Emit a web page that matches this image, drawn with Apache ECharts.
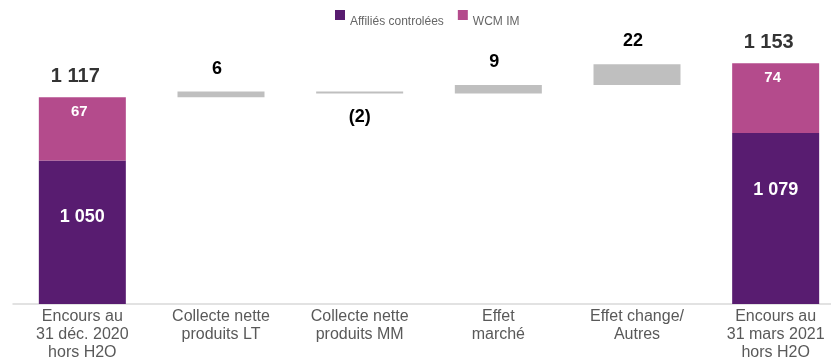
<!DOCTYPE html>
<html>
<head>
<meta charset="utf-8">
<script src="https://cdn.jsdelivr.net/npm/echarts@6/dist/echarts.min.js"></script>
<style>html,body{margin:0;padding:0;background:#fff}#c{width:831px;height:360px}</style>
</head>
<body>
<div id="c"></div>
<script>
const categories = ['Encours au\n31 déc. 2020\nhors H2O', 'Collecte nette\nproduits LT', 'Collecte nette\nproduits MM', 'Effet\nmarché', 'Effet change/\nAutres', 'Encours au\n31 mars 2021\nhors H2O'];
const affilies = [1050, null, null, null, null, 1079];
const wcm = [67, null, null, null, null, 74];
const variations = [null, 6, -2, 9, 22, null];
const seriesNames = ['Affiliés controlées', 'WCM IM'];

const FONT = "'Liberation Sans', Arial, sans-serif";
const PURPLE = '#581C70', PINK = '#B44B8C', GREY = '#BFBFBF';

function fmt(v) {
  const s = String(Math.abs(v)).replace(/\B(?=(\d{3})+(?!\d))/g, ' ');
  return v < 0 ? '(' + s + ')' : s;
}

// totals and waterfall bases derived from the data
const totals = affilies.map((a, i) => a == null ? null : a + wcm[i]);
const bases = [];
let running = totals[0];
variations.forEach((d, i) => {
  if (d == null) { bases.push(null); return; }
  const next = running + d;
  bases.push(Math.min(running, next));
  running = next;
});
const deltaData = variations.map(d => {
  if (d == null) return null;
  return d < 0
    ? { value: -d, label: { position: 'bottom', distance: 15, offset: [0, 0] } }
    : { value: d };
});

const chart = echarts.init(document.getElementById('c'), null, { renderer: 'canvas' });
chart.setOption({
  animation: false,
  backgroundColor: '#fff',
  legend: {
    data: seriesNames,
    left: 335, top: 10, padding: 0,
    itemWidth: 10, itemHeight: 10, itemGap: 14,
    icon: 'rect',
    formatter: name => '{t|' + name + '}',
    textStyle: { fontFamily: FONT, fontSize: 12, color: '#595959',
      rich: { t: { fontFamily: FONT, fontSize: 12, color: '#666666', padding: [14, 0, 0, 0] } } }
  },
  grid: { left: 13, width: 832, top: 0, bottom: 56, outerBoundsMode: 'none', containLabel: false },
  xAxis: {
    type: 'category',
    data: categories,
    axisLine: { show: true, lineStyle: { color: '#D9D9D9', width: 1.5 } },
    axisTick: { show: false },
    axisLabel: { fontFamily: FONT, fontSize: 16, color: '#595959', lineHeight: 18, margin: 4, interval: 0 }
  },
  yAxis: { type: 'value', min: 898, max: 1220, show: false, splitLine: { show: false } },
  series: [
    {
      name: seriesNames[0], type: 'bar', stack: 'all', barWidth: 87,
      data: affilies, itemStyle: { color: PURPLE },
      label: { show: true, position: 'insideTop', distance: 48, color: '#fff', fontFamily: FONT, fontWeight: 'bold', fontSize: 18,
        formatter: p => fmt(p.value) }
    },
    {
      name: seriesNames[1], type: 'bar', stack: 'all', barWidth: 87,
      data: wcm, itemStyle: { color: PINK },
      label: { show: true, position: 'insideTop', distance: 7, color: '#fff', fontFamily: FONT, fontWeight: 'bold', fontSize: 15,
        offset: [-3, 0], formatter: p => fmt(p.value) }
    },
    {
      name: 'base', type: 'bar', stack: 'all', barWidth: 87,
      data: bases, itemStyle: { color: 'transparent' }, silent: true
    },
    {
      name: 'variation', type: 'bar', stack: 'all', barWidth: 87,
      data: deltaData, itemStyle: { color: GREY },
      label: { show: true, position: 'top', distance: 14, color: '#000', fontFamily: FONT, fontWeight: 'bold', fontSize: 18,
        offset: [-4, 0], formatter: p => fmt(variations[p.dataIndex]) }
    },
    {
      name: 'total', type: 'scatter', data: totals, symbolSize: 0, silent: true,
      label: { show: true, position: 'top', distance: 11, color: '#000', fontFamily: FONT, fontWeight: 'bold', fontSize: 20,
        offset: [-7, 0], formatter: p => fmt(p.value) }
    }
  ]
});
</script>
</body>
</html>
